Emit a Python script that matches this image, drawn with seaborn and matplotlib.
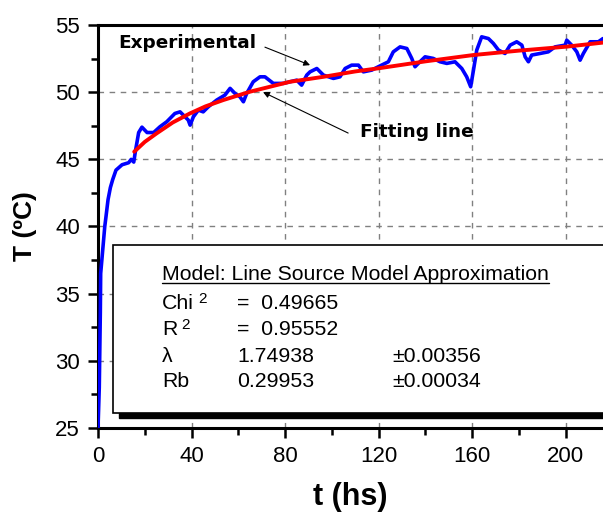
import numpy as np
import pandas as pd
import matplotlib
matplotlib.use("Agg")
import matplotlib.pyplot as plt
from matplotlib.patches import Rectangle
from matplotlib.lines import Line2D
from matplotlib.ticker import MultipleLocator
import seaborn as sns

# experimental temperature
t_exp = [0.0, 0.55, 1.0, 1.15, 2.0, 2.9, 3.4, 4.3, 5.3, 6.3, 7.7, 10.3, 13.1, 14.2, 15.3,
         16.0, 17.4, 18.8, 21.0, 23.8, 26.5, 29.4, 32.9, 35.1, 36.5, 38.6, 39.4, 40.8,
         42.9, 45.0, 47.2, 50.8, 54.3, 56.5, 58.6, 60.7, 62.2, 63.6, 66.4, 69.3, 71.4,
         75.0, 79.3, 82.1, 85.0, 87.1, 89.3, 90.7, 93.6, 96.4, 100.7, 103.5, 105.7,
         108.5, 111.4, 113.5, 117.1, 119.9, 124.2, 126.3, 129.2, 132.1, 134.2, 135.6,
         137.0, 139.9, 143.4, 146.3, 149.2, 152.7, 155.6, 157.7, 159.4, 160.6, 162.0,
         164.1, 167.0, 169.1, 171.3, 174.1, 176.3, 179.1, 181.3, 182.7, 184.1, 185.5,
         189.1, 192.6, 195.5, 199.8, 200.5, 202.6, 204.8, 206.2, 207.6, 210.5, 214.0, 216.0]
T_exp = [25.0, 28.0, 33.6, 36.5, 38.2, 40.0, 40.7, 42.0, 42.9, 43.5, 44.2, 44.6, 44.75, 45.0, 44.8,
         45.6, 47.0, 47.4, 47.0, 47.0, 47.43, 47.8, 48.42, 48.54, 48.3, 47.93, 47.55, 48.17,
         48.67, 48.54, 48.92, 49.42, 49.79, 50.29, 49.91, 49.66, 49.29, 49.91, 50.78, 51.15, 51.15,
         50.66, 50.66, 50.78, 50.9, 50.53, 51.28, 51.52, 51.77, 51.28, 51.03, 51.15, 51.77,
         52.02, 52.02, 51.52, 51.65, 51.9, 52.27, 53.01, 53.38, 53.26, 52.52, 51.9,
         52.15, 52.64, 52.52, 52.27, 52.15, 52.27, 51.77, 51.15, 50.41, 51.65, 53.14,
         54.13, 54.0, 53.64, 53.14, 52.89, 53.51, 53.76, 53.51, 52.64, 52.27, 52.77,
         52.89, 53.01, 53.38, 53.51, 53.88, 53.51, 53.01, 52.39, 52.89, 53.76, 53.76, 54.0]

# fitted line source model
t_fit = [15.5, 20.0, 25.1, 32.0, 39.4, 46.0, 53.6, 65.0, 82.1, 96.4, 110.0, 120.6,
         140.0, 160.4, 180.0, 200.6, 216.0]
T_fit = [45.57, 46.3, 46.94, 47.75, 48.43, 48.95, 49.42, 50.04, 50.78, 51.15, 51.55, 51.8,
         52.3, 52.77, 53.1, 53.4, 53.7]

box_title = "Model: Line Source Model Approximation"
row_names = ["Chi", "R", "λ", "Rb"]
row_sup = ["2", "2", "", ""]
row_values = ["=  0.49665", "=  0.95552", "1.74938", "0.29953"]
row_errors = ["", "", "±0.00356", "±0.00034"]

exp_df = pd.DataFrame({"t": t_exp, "T": T_exp})
fit_df = pd.DataFrame({"t": t_fit, "T": T_fit})

sns.set_style("ticks")
plt.rcParams["font.family"] = ["Liberation Sans", "DejaVu Sans"]
for key in ["text.color", "axes.labelcolor", "xtick.color", "ytick.color"]:
    plt.rcParams[key] = "black"

fig = plt.figure(figsize=(6.03, 5.13), dpi=100)
ax = fig.add_axes([0.1625, 0.166, 0.8375, 0.785])

sns.lineplot(data=exp_df, x="t", y="T", color="#0000ff", lw=2.6, sort=False, ax=ax, zorder=3)
sns.lineplot(data=fit_df, x="t", y="T", color="#ff0000", lw=2.8, sort=False, ax=ax, zorder=4)

ax.set_xlim(0, 216)
ax.set_ylim(25, 55)
ax.xaxis.set_major_locator(MultipleLocator(40))
ax.xaxis.set_minor_locator(MultipleLocator(20))
ax.yaxis.set_major_locator(MultipleLocator(5))
ax.yaxis.set_minor_locator(MultipleLocator(2.5))
ax.grid(True, which="major", color="#808080", ls=(0, (4, 4)), lw=1.0, zorder=0)
ax.tick_params(which="major", length=7, width=1.8, labelsize=16, pad=6)
ax.tick_params(which="minor", length=5, width=1.8)
for side in ["left", "bottom", "top"]:
    ax.spines[side].set_visible(True)
    ax.spines[side].set_linewidth(2.2)
    ax.spines[side].set_color("black")
ax.spines["right"].set_visible(False)

ax.set_xlabel("t (hs)", fontsize=22, fontweight="bold", labelpad=11)
ax.set_ylabel("T (ºC)", fontsize=19, fontweight="bold", labelpad=13)

# parameter box with drop shadow
ax.add_patch(Rectangle((9.0, 25.74), 225, 12.5, facecolor="black", edgecolor="black", zorder=5))
ax.add_patch(Rectangle((6.3, 26.13), 225, 12.49, facecolor="white", edgecolor="black",
                       lw=1.2, zorder=6))
title = ax.text(27.4, 36.39, box_title, fontsize=15.3, va="center", ha="left", zorder=7)
row_y = [34.3, 32.36, 30.35, 28.42]
for name, sup, val, err, y in zip(row_names, row_sup, row_values, row_errors, row_y):
    nt = ax.text(27.4, y, name, fontsize=15.3, va="center", ha="left", zorder=7)
    if sup:
        ax.annotate(sup, xy=(1, 1), xycoords=nt, xytext=(3, 1), textcoords="offset points",
                    fontsize=11, va="top", ha="left", zorder=7)
    ax.text(59.5, y, val, fontsize=15.3, va="center", ha="left", zorder=7)
    if err:
        ax.text(125.8, y, err, fontsize=15.3, va="center", ha="left", zorder=7)

# annotations
ax.text(8.6, 53.66, "Experimental", fontsize=13.3, fontweight="bold", family="DejaVu Sans",
        va="center", ha="left", zorder=7)
ax.annotate("", xy=(90.7, 52.02), xytext=(71.4, 53.36),
            arrowprops=dict(arrowstyle="-|>", color="black", lw=0.8,
                            mutation_scale=9, shrinkA=0, shrinkB=0), zorder=7)
ax.text(112.1, 47.03, "Fitting line", fontsize=13.3, fontweight="bold", family="DejaVu Sans",
        va="center", ha="left", zorder=7)
ax.annotate("", xy=(70.6, 50.01), xytext=(107.0, 46.96),
            arrowprops=dict(arrowstyle="-|>", color="black", lw=0.8,
                            mutation_scale=9, shrinkA=0, shrinkB=0), zorder=7)

# underline the box title
fig.canvas.draw()
bb = title.get_window_extent().transformed(fig.transFigure.inverted())
fig.add_artist(Line2D([bb.x0, bb.x1], [bb.y0 + 0.002, bb.y0 + 0.002],
                      color="black", lw=1.0))

fig.savefig("out.png", dpi=100)
